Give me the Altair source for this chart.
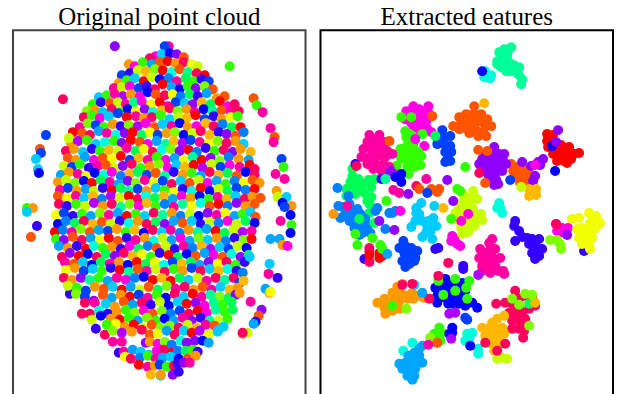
import altair as alt
import pandas as pd

palette = ["#ff0000","#ff5500","#ff9900","#ffb800","#f2ff00","#c8ff00","#80ff00","#33ff00","#00ff55","#00ff99","#00ffdd",
           "#00ccff","#00a5ff","#0080ff","#0040ff","#0000ff","#3300ff","#8f00ff","#b000ff","#ff00e5","#ff00a0","#ff0060"]

# Left panel: points (x, y, class)
band_047=[(169,47,20),(165,47,14),(115,47,17)]
band_055=[(156,57,19),(162,55,11),(170,54,15),(177,55,17),(150,59,21),(184,58,1)]
band_063=[(129,65,2),(135,67,19),(143,63,7),(152,65,12),(160,63,1),(168,62,0),(176,64,2),(184,63,21),(192,65,4),(198,67,5),(230,67,7)]
band_071=[(122,76,14),(130,74,16),(138,71,5),(146,72,3),(155,70,6),(163,71,0),(172,73,10),(180,70,1),(188,73,9),(197,74,21),(205,76,0)]
band_079=[(119,84,2),(127,81,7),(135,79,11),(144,82,0),(152,78,5),(160,80,15),(169,79,13),(177,82,20),(186,79,8),(194,82,7),(202,80,16),(209,82,14)]
band_087=[(114,89,20),(122,88,5),(130,87,19),(139,89,14),(147,87,16),(155,90,21),(163,85,0),(172,88,12),(180,90,15),(188,87,7),(196,89,17),(205,87,6),(213,90,1)]
band_095=[(99,98,11),(107,96,7),(115,95,20),(123,97,18),(131,95,2),(140,97,19),(148,93,15),(156,95,1),(165,96,21),(173,95,4),(181,97,13),(190,95,8),(198,97,16),(207,94,12),(217,99,2),(225,97,1),(254,99,1),(63,100,21)]
band_103=[(93,105,7),(101,103,16),(110,104,1),(118,103,5),(126,105,20),(134,103,9),(142,102,19),(151,105,4),(160,103,0),(168,107,20),(176,103,14),(185,104,11),(193,105,17),(202,103,3),(211,105,8),(220,102,0),(228,107,19),(235,105,21),(257,106,7)]
band_111=[(87,112,6),(95,111,2),(103,113,11),(112,110,21),(120,113,7),(128,110,15),(136,112,4),(145,110,17),(153,113,10),(162,111,3),(170,109,21),(178,112,6),(187,110,2),(195,113,20),(204,110,15),(213,112,9),(222,111,1),(231,113,20),(239,112,21),(263,113,20)]
band_119=[(84,118,21),(92,116,7),(100,119,19),(109,117,11),(118,114,14),(127,118,0),(136,117,20),(144,119,2),(152,118,21),(161,116,7),(170,120,11),(179,118,5),(187,119,3),(196,116,0),(205,120,14),(214,117,16),(222,120,2),(231,118,4),(238,117,7)]
band_127=[(80,128,20),(88,124,6),(96,126,14),(104,128,7),(113,125,2),(121,127,16),(129,126,6),(138,127,18),(146,124,19),(155,128,1),(163,125,11),(172,127,20),(180,124,15),(188,128,2),(197,127,19),(206,124,3),(214,127,21),(223,125,13),(232,128,8),(241,128,0),(271,129,20)]
band_135=[(73,133,0),(82,134,1),(90,136,21),(99,132,12),(107,134,20),(116,136,10),(125,134,17),(133,133,0),(142,136,8),(150,133,4),(158,136,14),(167,134,2),(175,133,6),(184,136,15),(193,134,5),(201,132,21),(210,136,3),(219,133,16),(227,135,17),(236,137,1),(244,133,13),(275,138,1),(46,136,14)]
band_143=[(71,144,2),(69,139,5),(78,142,18),(87,141,7),(96,145,11),(105,143,10),(114,142,7),(122,144,17),(131,141,0),(140,143,1),(148,145,19),(157,142,12),(166,145,9),(174,142,3),(183,144,18),(191,141,14),(200,143,20),(209,145,4),(218,142,6),(227,144,21),(236,142,2),(244,145,11),(274,143,20),(40,150,1),(41,154,14)]
band_151=[(66,152,21),(74,150,2),(83,153,11),(92,150,16),(100,152,7),(109,151,3),(118,152,5),(127,149,20),(136,152,8),(144,150,4),(153,153,21),(162,151,10),(171,150,6),(180,152,17),(189,151,0),(197,153,13),(206,149,16),(215,152,7),(224,151,21),(233,153,17),(241,150,2),(251,153,3),(282,160,14)]
band_159=[(68,159,1),(76,161,2),(85,158,12),(94,161,19),(103,159,1),(112,160,4),(121,157,0),(130,161,14),(139,159,3),(148,161,20),(157,158,7),(166,161,19),(175,159,12),(184,161,4),(193,158,9),(202,161,0),(211,159,17),(220,162,6),(229,158,13),(239,160,2),(249,161,12),(36,160,11),(284,168,7)]
band_167=[(64,167,5),(72,168,14),(80,165,7),(89,169,16),(98,167,20),(106,166,1),(115,169,5),(123,167,17),(132,165,21),(141,169,7),(150,167,2),(159,165,6),(168,169,19),(177,166,11),(185,168,3),(194,166,0),(203,169,18),(212,165,5),(221,168,14),(230,166,19),(240,168,20),(250,166,0),(255,170,21),(38,170,11),(39,174,15),(276,175,20)]
band_175=[(61,176,12),(69,173,2),(78,175,20),(86,177,4),(95,174,15),(104,176,10),(112,173,19),(121,177,13),(130,175,3),(138,173,8),(147,176,14),(156,174,1),(165,177,9),(174,173,16),(183,176,2),(192,174,7),(201,177,12),(210,173,21),(219,176,3),(228,174,8),(237,177,1),(246,173,15),(255,176,21),(285,180,20)]
band_183=[(58,183,2),(66,181,5),(75,184,6),(84,182,15),(92,184,0),(101,181,8),(110,183,20),(119,185,12),(128,182,17),(136,184,6),(145,181,20),(154,184,4),(163,182,14),(172,185,21),(181,182,11),(190,184,1),(199,181,5),(208,184,19),(217,182,12),(226,185,7),(235,182,13),(244,184,4),(253,181,1),(260,184,2)]
band_191=[(60,191,20),(68,189,14),(77,192,2),(86,190,12),(94,192,5),(103,189,16),(112,191,0),(121,189,8),(129,192,9),(138,190,14),(147,192,2),(156,189,11),(165,191,7),(174,193,4),(183,190,16),(192,192,10),(201,189,0),(210,192,15),(219,190,5),(228,192,8),(237,189,14),(246,191,13),(255,190,0),(277,192,2)]
band_199=[(58,197,1),(67,199,4),(76,197,20),(84,199,11),(93,197,3),(102,200,13),(111,197,18),(120,199,5),(129,197,0),(138,200,21),(146,197,10),(155,199,8),(164,197,3),(173,200,12),(182,197,19),(191,199,2),(200,197,15),(209,200,7),(218,198,20),(227,200,3),(236,197,11),(245,200,21),(253,198,2),(261,199,1),(278,198,5),(287,198,11),(283,204,15)]
band_207=[(59,205,21),(67,207,16),(76,205,7),(85,207,5),(94,204,18),(103,207,2),(112,205,21),(121,208,9),(130,205,6),(139,207,19),(147,204,3),(156,207,7),(165,205,13),(174,208,20),(183,205,9),(192,207,4),(201,204,10),(210,207,1),(219,205,0),(228,207,13),(237,204,17),(246,207,2),(255,205,1),(27,209,7),(33,209,2),(27,213,11),(292,207,2),(285,208,14)]
band_215=[(56,216,4),(64,214,14),(73,217,16),(82,215,7),(91,217,12),(100,214,6),(109,216,20),(118,214,12),(127,217,0),(136,215,7),(145,217,11),(154,214,21),(163,216,9),(172,214,2),(181,217,13),(190,215,5),(199,217,15),(208,214,17),(217,216,20),(226,214,4),(235,217,12),(243,215,7),(251,213,11),(256,218,1),(291,216,15)]
band_223=[(58,225,15),(66,222,13),(75,224,8),(84,222,21),(93,225,3),(102,223,1),(111,225,5),(120,222,16),(129,224,10),(138,222,2),(147,225,21),(156,223,8),(165,225,17),(174,222,12),(183,224,1),(192,222,11),(201,225,16),(210,223,5),(219,224,13),(228,222,19),(237,225,5),(246,222,8),(255,224,15),(281,222,20),(37,227,16)]
band_231=[(55,233,0),(63,231,13),(72,233,20),(81,230,6),(90,233,1),(99,231,12),(108,232,14),(117,230,2),(126,233,7),(135,231,3),(144,234,15),(153,231,21),(162,233,11),(171,231,20),(180,234,13),(189,231,2),(198,233,9),(207,230,12),(216,232,0),(225,234,8),(234,230,5),(243,233,18),(252,232,20),(292,226,7),(291,234,15)]
band_239=[(56,240,7),(64,241,17),(73,238,1),(82,241,21),(91,239,12),(100,241,4),(109,239,0),(118,242,1),(127,239,16),(136,241,20),(145,239,2),(154,242,10),(163,239,5),(172,241,12),(181,239,19),(190,242,12),(199,239,6),(208,241,11),(217,239,2),(226,242,13),(235,239,16),(244,241,6),(252,240,0),(31,238,1),(271,240,12),(280,240,12)]
band_247=[(59,247,12),(68,249,2),(77,247,16),(86,250,0),(94,247,10),(103,249,7),(112,248,2),(121,250,16),(130,247,19),(139,250,8),(148,247,13),(157,249,1),(166,247,5),(175,250,16),(184,247,20),(193,249,13),(202,247,3),(211,250,18),(220,248,11),(229,250,14),(238,247,5),(247,249,15),(283,246,2),(288,247,19)]
band_255=[(62,258,21),(70,254,17),(79,257,0),(88,255,15),(97,258,21),(106,255,8),(115,257,17),(124,254,21),(133,257,3),(142,255,4),(151,258,7),(160,254,16),(169,256,0),(178,258,8),(187,255,15),(196,257,1),(205,254,12),(214,256,19),(223,258,1),(232,255,10),(241,258,17),(249,256,8),(270,265,11)]
band_263=[(65,263,20),(74,265,1),(83,263,11),(92,266,15),(101,263,8),(110,265,20),(119,263,2),(128,266,15),(137,263,0),(146,265,8),(155,263,4),(164,266,10),(173,263,14),(182,265,3),(191,263,8),(200,266,12),(209,263,17),(218,265,4),(227,263,21),(236,266,7),(245,263,16),(250,258,11)]
band_271=[(66,271,4),(75,269,2),(84,272,14),(93,270,11),(102,272,7),(111,269,16),(120,271,0),(129,273,9),(138,270,1),(147,272,20),(156,270,5),(165,273,21),(174,270,7),(183,272,2),(192,269,14),(201,272,21),(210,270,11),(219,272,3),(228,270,10),(237,272,16),(243,274,13),(269,275,20),(278,279,16)]
band_279=[(64,279,21),(72,281,2),(81,279,17),(90,281,9),(99,279,7),(108,282,12),(117,279,20),(126,281,19),(135,279,13),(144,278,15),(153,281,0),(162,279,3),(171,282,0),(180,279,8),(189,281,11),(198,279,5),(207,282,20),(216,279,21),(225,281,9),(234,279,21),(240,284,14),(266,290,12),(270,294,2),(271,293,4)]
band_287=[(70,295,16),(68,287,5),(77,289,7),(86,292,14),(95,288,2),(104,290,1),(113,288,11),(122,291,0),(131,288,12),(140,291,5),(149,288,1),(158,291,8),(167,287,6),(176,290,20),(185,288,21),(194,291,2),(203,288,1),(212,291,20),(221,288,11),(230,291,3),(238,289,2),(244,282,3)]
band_295=[(76,295,6),(85,298,14),(94,302,17),(103,296,1),(112,299,12),(121,296,2),(130,298,0),(139,296,14),(148,299,20),(157,296,7),(166,299,15),(175,295,21),(184,298,11),(193,295,0),(202,298,20),(211,296,9),(220,298,6),(229,299,8),(236,296,17),(240,294,2),(251,303,20)]
band_303=[(85,304,21),(95,304,20),(106,305,11),(115,308,2),(124,303,1),(133,306,12),(142,304,21),(151,306,16),(160,303,5),(169,307,15),(178,303,11),(187,305,0),(196,304,17),(205,307,19),(214,304,9),(223,306,7),(232,303,8),(262,311,17),(259,317,1)]
band_311=[(82,315,21),(90,315,21),(99,312,10),(108,315,16),(117,313,2),(126,311,7),(135,314,6),(144,312,19),(153,315,1),(162,312,6),(171,315,13),(180,312,14),(189,315,21),(198,312,0),(207,314,19),(216,311,9),(225,313,7),(233,311,8),(256,323,16)]
band_319=[(92,321,5),(101,317,15),(111,320,2),(120,321,0),(129,319,7),(138,322,12),(147,319,6),(156,322,7),(165,320,15),(174,322,12),(183,319,20),(192,322,17),(201,319,16),(210,322,9),(219,322,5),(228,320,7),(254,325,12)]
band_327=[(96,330,16),(107,326,7),(116,325,4),(125,328,2),(134,326,0),(143,329,4),(152,326,1),(161,329,6),(170,327,6),(179,329,21),(188,326,5),(197,329,3),(206,326,20),(215,327,1),(224,328,11),(219,331,11),(243,335,2),(248,334,5),(243,334,21)]
band_335=[(105,336,21),(113,332,6),(122,334,18),(132,333,2),(142,331,21),(150,336,1),(158,335,4),(167,332,12),(175,336,21),(184,332,11),(192,334,0),(200,332,18),(209,336,4),(218,333,11)]
band_343=[(113,343,20),(122,343,20),(146,344,17),(150,343,2),(158,345,19),(165,343,6),(172,346,13),(181,342,10),(187,344,17),(195,342,17),(203,342,15),(209,344,12)]
band_351=[(119,354,16),(124,353,20),(133,351,12),(141,353,11),(149,356,11),(157,352,19),(164,351,21),(172,354,0),(178,352,13),(186,352,8),(193,351,7),(198,353,16)]
band_359=[(125,358,4),(131,360,21),(140,359,13),(148,357,7),(156,360,20),(163,359,12),(171,358,11),(179,360,15),(188,360,1),(196,357,2)]
band_367=[(139,366,0),(148,368,20),(155,367,2),(160,366,14),(167,368,7),(174,367,21),(178,365,16),(184,364,17),(190,364,20)]
band_375=[(151,376,3),(161,377,11),(161,376,2),(173,376,17),(179,373,16)]
left_bands = [band_047,band_055,band_063,band_071,band_079,band_087,band_095,band_103,band_111,band_119,band_127,band_135,
              band_143,band_151,band_159,band_167,band_175,band_183,band_191,band_199,band_207,band_215,band_223,band_231,
              band_239,band_247,band_255,band_263,band_271,band_279,band_287,band_295,band_303,band_311,band_319,band_327,
              band_335,band_343,band_351,band_359,band_367,band_375]

# Right panel: clusters, one list per class, then single points lying over them
mint=(9,[(503,50),(508,50),(498,53),(503,57),(510,48),(496,62),(496,65),(503,62),(500,68),(508,63),(513,66),(518,68),(517,75),(510,72),(505,72),(521,80),(520,85),(502,66),(506,56),(505,67),(512,69)])
aqua=(10,[(484,72),(490,76),(483,78),(489,79),(486,78),(466,335),(471,334),(464,342),(468,340),(477,350),(477,355),(411,344),(402,352),(499,209),(498,204),(501,214),(496,209)])
magenta=(19,[(405,112),(412,107),(418,110),(427,107),(428,115),(420,118),(411,116),(404,120),(410,124),(418,124),(425,122),(419,131),(426,130),(430,133),(412,132),(412,145),(423,147),(411,140),(414,113),(422,114),(414,120),(424,126),(451,237),(453,240),(456,245),(459,247),(450,242),(556,232),(561,229),(567,229),(564,232),(559,234)])
orangered=(1,[(473,107),(458,118),(465,115),(472,115),(480,115),(486,120),(490,127),(484,127),(476,122),(468,122),(460,124),(452,127),(458,130),(466,130),(474,130),(482,133),(485,137),(477,137),(468,134),(472,127),(480,122),(465,126),(510,165),(516,168),(523,170),(512,172),(519,174),(527,172),(532,177),(515,178),(522,179),(528,182),(519,184),(526,186),(524,176)])
blue=(14,[(441,131),(449,137),(443,138),(437,140),(436,145),(443,145),(449,147),(444,153),(450,153),(446,160),(449,162),(444,163),(446,150),(402,242),(398,249),(404,247),(410,249),(416,252),(403,254),(409,255),(414,259),(401,262),(406,262),(413,262),(404,268),(408,265),(406,251),(464,319),(466,321)])
green=(7,[(404,132),(408,135),(405,138),(411,137),(399,150),(405,148),(411,147),(397,155),(404,155),(410,155),(417,153),(400,160),(407,161),(414,160),(420,157),(406,168),(413,168),(419,166),(407,175),(395,167),(407,142),(438,329),(433,335),(439,342),(436,337),(440,334)])
pink=(20,[(368,136),(378,136),(372,140),(366,143),(376,144),(384,143),(362,150),(370,150),(378,150),(386,152),(360,158),(368,158),(376,157),(384,158),(391,155),(366,165),(374,165),(382,165),(372,170),(380,172),(388,168),(491,240),(488,244),(479,250),(488,252),(494,250),(484,256),(490,256),(478,259),(486,260),(493,260),(499,259),(481,267),(488,267),(494,267),(481,272),(489,274),(502,272),(503,275),(497,272)])
violet=(17,[(493,148),(484,155),(491,155),(498,155),(503,155),(481,160),(488,161),(495,161),(502,162),(478,165),(485,168),(492,168),(499,168),(505,165),(480,172),(487,175),(494,175),(501,172),(488,180),(495,181),(493,186),(497,185)])
red=(0,[(546,135),(552,136),(546,142),(553,143),(547,148),(554,150),(560,146),(568,148),(552,155),(559,154),(566,155),(573,155),(578,154),(556,162),(563,162),(570,160),(558,158),(566,164),(550,148),(561,151),(568,152),(378,254),(381,257),(378,259)])
spring=(8,[(351,170),(351,177),(357,180),(361,185),(352,187),(345,190),(345,197),(367,181),(373,180),(370,188),(363,194),(370,198),(354,195),(358,190),(349,183),(366,202),(368,205),(368,214)])
lime=(5,[(462,195),(472,192),(470,199),(476,200),(462,202),(468,204),(458,208),(465,210),(472,210),(454,214),(460,215),(474,216),(480,215),(456,221),(462,222),(468,222),(474,222),(481,221),(460,229),(467,229),(473,227),(461,235),(467,233),(467,216),(496,360),(506,360),(501,359)])
azure=(13,[(337,207),(348,205),(356,210),(344,214),(339,219),(351,217),(359,215),(348,222),(354,224),(359,229),(366,227),(361,234),(369,234),(374,212),(376,209),(384,230),(391,214),(394,212),(388,214),(364,220),(345,208),(352,211),(358,236),(363,228),(342,208),(353,229),(356,218)])
cyan=(11,[(415,209),(418,215),(414,222),(410,228),(421,222),(426,227),(432,219),(435,227),(429,232),(421,238),(431,240),(433,207),(415,214),(427,222),(425,233),(420,204)])
indigo=(16,[(434,250),(437,249),(514,222),(513,227),(518,232),(514,242),(526,239),(531,240),(538,240),(528,245),(534,247),(541,250),(531,254),(538,257),(534,260),(521,238),(537,250),(533,253),(462,267),(462,270),(583,252),(363,260)])
yellow=(4,[(571,220),(578,219),(588,214),(595,217),(598,225),(599,224),(589,224),(581,229),(576,230),(586,232),(594,230),(578,239),(584,240),(591,239),(581,245),(588,247),(589,250),(592,222),(582,235)])
pureblue=(15,[(438,279),(444,280),(434,289),(441,287),(448,285),(454,289),(461,284),(436,297),(444,299),(451,297),(458,297),(464,292),(451,305),(458,305),(464,307),(471,304),(476,309),(436,304),(443,292),(450,292),(457,292),(447,305),(451,329),(451,334),(448,335),(469,347),(481,72)])
orange=(2,[(376,304),(383,300),(391,294),(401,285),(399,294),(411,294),(406,300),(418,297),(423,299),(389,304),(398,302),(383,309),(391,312),(398,310),(384,315),(405,297),(393,300),(388,309),(396,288),(412,300)])
sky=(12,[(421,347),(418,350),(413,354),(418,357),(409,359),(398,365),(404,364),(411,364),(418,364),(421,364),(401,370),(408,370),(414,370),(406,377),(413,377),(411,381),(414,358),(407,357)])
crimson=(21,[(514,292),(504,304),(511,305),(518,307),(524,297),(531,299),(534,307),(528,310),(508,314),(514,314),(521,314),(511,322),(518,322),(524,320),(511,330),(518,330),(523,332),(522,339),(495,305),(518,300),(526,326),(368,252),(368,249),(368,263),(555,225)])
amber=(3,[(503,317),(496,320),(491,324),(481,329),(488,329),(494,329),(501,329),(484,337),(491,337),(498,337),(503,335),(488,344),(494,345),(499,344),(493,352),(496,350)])
right_clusters=[mint,aqua,magenta,orangered,blue,green,pink,violet,red,spring,lime,azure,cyan,indigo,yellow,pureblue,orange,sky,crimson,amber]
right_accents=[(410,118,7),(400,118,7),(431,117,1),(388,142,1),(483,104,3),(421,135,7),(434,137,8),(414,140,19),(477,151,1),(486,152,1),(484,184,1),(509,181,14),(478,174,21),(464,168,7),
 (521,163,17),(530,167,17),(534,177,17),(532,182,17),(528,190,3),(535,190,3),(530,194,3),(535,196,3),(528,197,3),(520,188,5),(551,147,15),(555,143,17),(557,131,17),
 (554,172,15),(537,163,17),(542,160,17),(539,166,17),(534,166,19),(336,189,13),(347,197,13),(354,165,16),(355,167,21),(386,172,20),(393,175,20),(380,180,16),(389,172,17),(384,180,9),
 (394,178,15),(400,183,15),(400,175,15),(392,191,20),(398,194,20),(407,195,17),(415,187,21),(418,190,1),(425,180,20),(446,181,17),(427,193,1),(436,193,1),(438,190,1),(430,190,1),(426,194,14),
 (456,190,7),(459,192,7),(332,215,2),(346,207,20),(358,220,8),(373,224,8),(356,246,7),(354,235,7),(371,239,7),(379,246,7),(368,256,0),(381,250,7),(386,255,12),(393,231,17),(378,222,17),(399,212,19),
 (385,202,7),(442,209,3),(452,202,17),(447,264,21),(450,220,7),(460,222,19),(467,215,19),(555,225,21),(566,236,17),(549,241,6),(556,241,6),(559,245,6),(560,250,6),(477,276,18),
 (454,280,7),(437,282,7),(468,282,7),(465,289,7),(442,296,7),(466,300,7),(454,292,7),(448,315,18),(454,314,18),(428,300,21),(437,277,21),(391,307,7),(413,286,11),(401,286,21),(411,285,21),(421,294,12),(405,310,6),
 (429,339,6),(436,344,1),(427,346,20),(450,340,18),(524,295,6),(511,300,6),(518,306,6),(528,305,8),(528,327,6),(534,304,3),(484,344,21),(496,352,21),(504,345,21),(531,296,6)]

left_rows=[{"x":p[0],"y":p[1],"c":p[2]} for band in left_bands for p in band]
right_rows=[{"x":p[0],"y":p[1],"c":c} for c,pts in right_clusters for p in pts]+[{"x":p[0],"y":p[1],"c":p[2]} for p in right_accents]

def panel(rows,title,xdom,frame):
    return alt.Chart(pd.DataFrame(rows),title=alt.TitleParams(title,font="Liberation Serif",fontSize=25,fontWeight="normal",color="#000000",offset=0,anchor="middle")).mark_circle(size=100,opacity=1).encode(
        x=alt.X("x:Q",scale=alt.Scale(domain=xdom,nice=False,zero=False),axis=None),
        y=alt.Y("y:Q",scale=alt.Scale(domain=[31,401],reverse=True,nice=False,zero=False),axis=None),
        color=alt.Color("c:N",scale=alt.Scale(domain=list(range(22)),range=palette),legend=None),
    ).properties(width=293,height=370,view=alt.ViewBackground(stroke=frame,strokeWidth=2,fill="white"))

chart=alt.hconcat(panel(left_rows,"Original point cloud",[13,306],"#444444"),panel(right_rows,"Extracted eatures",[319,612],"#000000"),spacing=13,
    padding={"left":4,"top":-4,"right":0,"bottom":0})
chart.save("out.html",embed_options={"renderer":"svg","actions":False})
